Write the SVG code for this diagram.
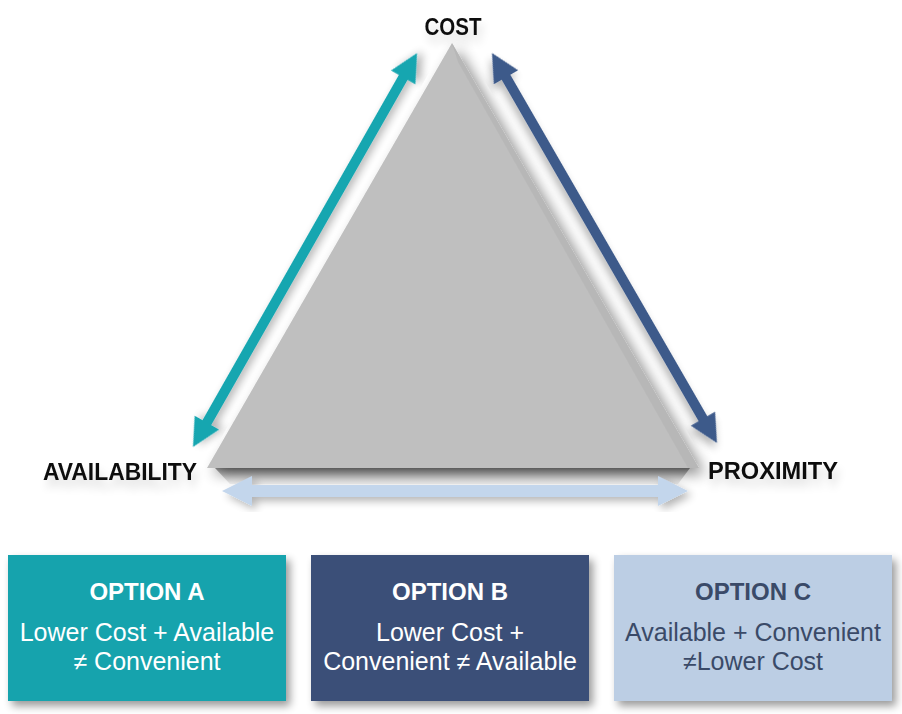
<svg xmlns="http://www.w3.org/2000/svg" width="902" height="714" viewBox="0 0 902 714">
<defs>
<style>
.lbl{font-family:"Liberation Sans",Arial,sans-serif;font-weight:bold;font-size:24px;fill:#111;}
.ttl{font-family:"Liberation Sans",Arial,sans-serif;font-weight:bold;font-size:24px;text-anchor:middle;}
.body{font-family:"Liberation Sans",Arial,sans-serif;font-size:25px;text-anchor:middle;}
.white{fill:#ffffff;}
.dark{fill:#3a4a68;}
</style>
<filter id="softShadow" x="-20%" y="-20%" width="140%" height="140%">
<feGaussianBlur in="SourceAlpha" stdDeviation="7"/>
<feOffset dx="6" dy="6" result="b"/>
<feComponentTransfer><feFuncA type="linear" slope="0.45"/></feComponentTransfer>
<feMerge><feMergeNode/><feMergeNode in="SourceGraphic"/></feMerge>
</filter>
<filter id="arrowShadow" x="-20%" y="-20%" width="140%" height="140%">
<feGaussianBlur in="SourceAlpha" stdDeviation="4"/>
<feOffset dx="4" dy="4" result="b"/>
<feComponentTransfer><feFuncA type="linear" slope="0.3"/></feComponentTransfer>
<feMerge><feMergeNode/><feMergeNode in="SourceGraphic"/></feMerge>
</filter>
<filter id="boxShadow" x="-10%" y="-10%" width="125%" height="130%">
<feGaussianBlur in="SourceAlpha" stdDeviation="4"/>
<feOffset dx="4" dy="5" result="b"/>
<feComponentTransfer><feFuncA type="linear" slope="0.4"/></feComponentTransfer>
<feMerge><feMergeNode/><feMergeNode in="SourceGraphic"/></feMerge>
</filter>
<filter id="textShadow" x="-20%" y="-50%" width="140%" height="250%">
<feGaussianBlur in="SourceAlpha" stdDeviation="5"/>
<feOffset dx="3" dy="8" result="b"/>
<feComponentTransfer><feFuncA type="linear" slope="0.15"/></feComponentTransfer>
<feMerge><feMergeNode/><feMergeNode in="SourceGraphic"/></feMerge>
</filter>
<linearGradient id="band" x1="0" y1="0" x2="0" y2="1">
<stop offset="0" stop-color="#8f8f8f"/>
<stop offset="1" stop-color="#c9c9c9" stop-opacity="0.3"/>
</linearGradient>
</defs>
<rect width="902" height="714" fill="#ffffff"/>

<g id="triangle">
<polygon points="215,468 690,468 678,484 230,484" fill="url(#band)"/>
<polygon points="452,43 699,468 207,468" fill="#bfbfbf" filter="url(#softShadow)"/>
<polygon points="452,43 699,468 688,468 458,62" fill="#b3b3b3" opacity="0.6"/>
</g>

<g id="connectors">
<polygon transform="translate(193,447) rotate(-60.37)" points="0,0 28,-14 28,-5 425.2,-5 425.2,-14 453.2,0 425.2,14 425.2,5 28,5 28,14" fill="#17a6b0" filter="url(#arrowShadow)"/>
<polygon transform="translate(492,53) rotate(60.02)" points="0,0 28,-14 28,-5 422.2,-5 422.2,-14 450.2,0 422.2,14 422.2,5 28,5 28,14" fill="#3d5a8a" filter="url(#arrowShadow)"/>
<polygon transform="translate(222,491)" points="0,0 30,-15 30,-6 436,-6 436,-15 466,0 436,15 436,6 30,6 30,15" fill="#c3d6ec" filter="url(#arrowShadow)"/>
</g>

<g id="cost">
<text class="lbl" x="453" y="35" text-anchor="middle" textLength="57" lengthAdjust="spacingAndGlyphs" filter="url(#textShadow)">COST</text>
</g>
<g id="availability">
<text class="lbl" x="43" y="480" textLength="154" lengthAdjust="spacingAndGlyphs" filter="url(#textShadow)">AVAILABILITY</text>
</g>
<g id="proximity">
<text class="lbl" x="708" y="479" textLength="130" lengthAdjust="spacingAndGlyphs" filter="url(#textShadow)">PROXIMITY</text>
</g>

<g id="option-a">
<rect x="8" y="555" width="278" height="146" fill="#14a3ad" filter="url(#boxShadow)"/>
<text class="ttl white" x="147" y="600">OPTION A</text>
<text class="body white" x="147" y="641">Lower Cost + Available</text>
<text class="body white" x="147" y="670">≠ Convenient</text>
</g>
<g id="option-b">
<rect x="311" y="555" width="278" height="146" fill="#3b5078" filter="url(#boxShadow)"/>
<text class="ttl white" x="450" y="600">OPTION B</text>
<text class="body white" x="450" y="641">Lower Cost +</text>
<text class="body white" x="450" y="670">Convenient ≠ Available</text>
</g>
<g id="option-c">
<rect x="614" y="555" width="278" height="146" fill="#bccee4" filter="url(#boxShadow)"/>
<text class="ttl dark" x="753" y="600">OPTION C</text>
<text class="body dark" x="753" y="641">Available + Convenient</text>
<text class="body dark" x="753" y="670">≠Lower Cost</text>
</g>
</svg>
